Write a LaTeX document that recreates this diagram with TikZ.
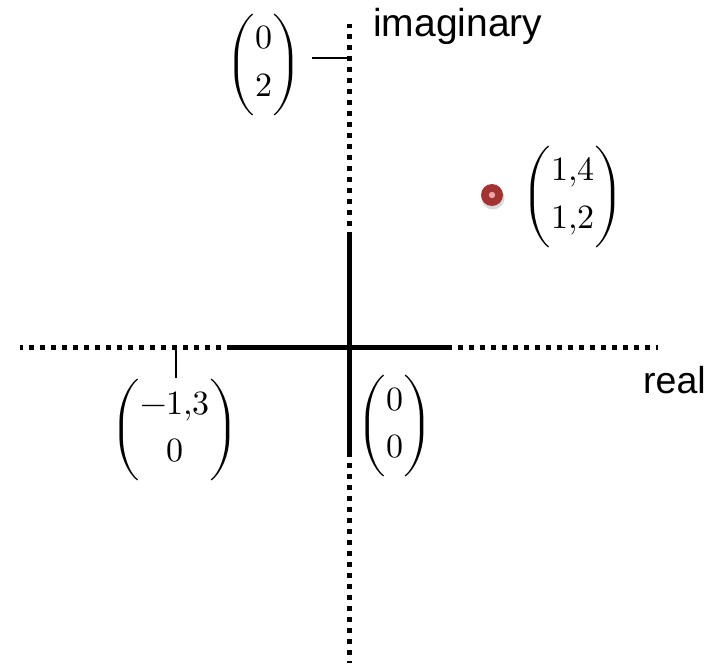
\documentclass[tikz,border=0pt]{standalone}
\usepackage{amsmath}
\usepackage{fontspec}
\usepackage{unicode-math}
\setmainfont{Liberation Sans}
\setmathfont{Latin Modern Math}
\definecolor{dotred}{HTML}{A33232}
\definecolor{dotpink}{HTML}{EBA5A5}
\tikzset{
  solidaxis/.style={line width=5pt, black},
  dottedaxis/.style={line width=5pt, black, dash pattern=on 5pt off 6pt},
  tickline/.style={line width=1.8pt, black},
  matlabel/.style={inner sep=0pt, font=\fontsize{34}{40}\selectfont},
  axislabel/.style={inner sep=0pt, anchor=base west, font=\fontsize{39}{42}\selectfont}
}
\newcommand{\twovec}[2]{\(\left(\vcenter{\hbox{\rule{0pt}{88pt}}}\begin{matrix}#1\\[8pt]#2\end{matrix}\right)\)}
\begin{document}
\begin{tikzpicture}[x=1pt,y=-1pt]
\useasboundingbox (0,0) rectangle (716,666);
% axis coordinates
\coordinate (xl) at (20,347);
\coordinate (xsl) at (232,347);
\coordinate (xsr) at (447,347);
\coordinate (xr) at (658,347);
\coordinate (yt) at (349,24);
\coordinate (yst) at (349,237);
\coordinate (ysb) at (349,452);
\coordinate (yb) at (349,663);
% dotted parts
\draw[dottedaxis] (xsl) -- (xl);
\draw[dottedaxis] (xsr) -- (xr);
\draw[dottedaxis] (yst) -- (yt);
\draw[dottedaxis] (ysb) -- (yb);
% solid parts
\draw[solidaxis] (xsl) -- (xsr);
\draw[solidaxis] (yst) -- (ysb);
% ticks
\coordinate (t1a) at (312,58);
\coordinate (t1b) at (349,58);
\coordinate (t2a) at (176,347);
\coordinate (t2b) at (176,378);
\draw[tickline] (t1a) -- (t1b);
\draw[tickline] (t2a) -- (t2b);
% labels
\node[axislabel] (imag) at (373,37) {imaginary};
\node[axislabel, font=\fontsize{37.5}{40}\selectfont] (real) at (643,393) {real};
\node[matlabel] (m02) at (264,65) {\twovec{0}{2}};
\node[matlabel] (m14) at (573,197) {\twovec{1{,}4}{1{,}2}};
\node[matlabel] (m13) at (175,430) {\twovec{-1{,}3}{0}};
\node[matlabel] (m00) at (395,426) {\twovec{0}{0}};
% point
\fill[black!25, opacity=0.6] (493,198) circle (11.5);
\fill[dotred] (492,195) circle (11);
\fill[dotpink] (492,195) circle (3.2);
\node[inner sep=0pt] (pt) at (492,195) {};
\end{tikzpicture}
\end{document}
